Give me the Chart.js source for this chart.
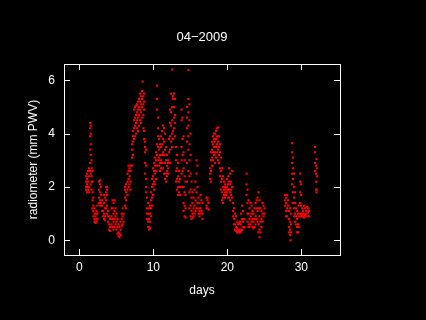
<!DOCTYPE html>
<html>
<head>
<meta charset="utf-8">
<script src="https://cdn.jsdelivr.net/npm/chart.js@4/dist/chart.umd.min.js"></script>
<style>
  html, body { margin: 0; padding: 0; background: #000; }
  #wrap { width: 426px; height: 320px; }
</style>
</head>
<body>
<div id="wrap"><canvas id="c" width="426" height="320"></canvas></div>
<script>
// ---- data ----
const chartTitle = "04\u22122009";
const xTitle = "days";
const yTitle = "radiometer (mm PWV)";
const xTicks = [0, 10, 20, 30];
const yTicks = [0, 2, 4, 6];

// day of each column of samples
const dayColumns = [
  0.91, 1.04, 1.18, 1.31, 1.45, 1.54, 1.65, 1.78, 1.89, 2.05, 2.19, 2.32, 2.43,
  2.66, 2.80, 2.93, 3.07, 3.20, 3.34, 3.47, 3.61, 3.74, 3.88, 4.01, 4.15, 4.35,
  4.49, 4.62, 4.76, 4.89, 5.03, 5.16, 5.30, 5.43, 5.57, 5.73, 5.84, 5.97,
  6.18, 6.31, 6.51, 6.65, 6.78, 6.92, 7.12, 7.26, 7.39, 7.53, 7.66, 7.80, 7.93,
  8.07, 8.20, 8.34, 8.47, 8.54, 8.65, 8.74, 8.88, 9.01, 9.15, 9.28, 9.42, 9.55,
  9.69, 9.82, 9.96, 10.10, 10.23, 10.36, 10.50, 10.64, 10.77, 10.90, 11.04,
  11.18, 11.31, 11.45, 11.58, 11.72, 11.85, 11.99, 12.12, 12.26, 12.39, 12.53,
  12.66, 12.80, 12.93, 13.07, 13.20, 13.34, 13.47, 13.61, 13.81, 13.95, 14.08,
  14.22, 14.35, 14.55, 14.73, 14.89, 15.03, 15.16, 15.30, 15.43, 15.57, 15.70,
  15.84, 15.97, 16.11, 16.24, 16.38, 16.51, 16.65,
  17.19, 17.32, 17.46, 17.66, 17.80, 17.93, 18.07, 18.20, 18.34, 18.47, 18.61,
  18.74, 18.88, 19.01, 19.15, 19.28, 19.42, 19.55, 19.69, 19.82, 19.96, 20.09,
  20.23, 20.36, 20.50, 20.64, 20.77, 20.90, 21.04, 21.18, 21.31, 21.45, 21.58,
  21.72, 21.85, 21.99, 22.12, 22.26, 22.60, 22.73, 22.87, 23.00, 23.14, 23.27,
  23.41, 23.54, 23.68, 23.81, 23.95, 24.08, 24.22, 24.35, 24.49, 24.62, 24.76,
  24.89, 25.03,
  27.80, 27.93, 28.07, 28.20, 28.34, 28.47, 28.55, 28.61, 28.74, 28.88, 29.01,
  29.15, 29.28, 29.42, 29.55, 29.69, 29.82, 29.96, 30.09, 30.23, 30.36, 30.50,
  30.64, 30.77, 30.91, 31.04,
  31.85, 31.99, 32.05, 32.12
];

// PWV samples (mm) in each column
const pwvColumns = [
  [2.0, 2.2, 2.4, 1.9], [1.8, 2.1, 2.5, 2.3], [1.9, 2.2, 2.6, 2.0], [2.4, 2.0, 1.8, 2.7],
  [4.4, 4.2, 3.9, 3.4, 2.9, 2.6], [4.3, 4.0, 3.6, 3.2, 2.5, 2.1], [3.0, 2.7, 2.4, 2.2, 1.9],
  [2.6, 2.2, 1.8, 1.5, 1.2], [1.6, 1.3, 1.1, 0.9], [1.2, 1.0, 0.8, 0.7], [0.9, 0.7, 0.65, 1.0],
  [0.8, 0.7, 1.1], [1.0, 1.3, 0.8],
  [1.6, 1.9, 2.2, 1.4], [1.5, 1.8, 2.1, 1.3, 2.25], [1.4, 1.7, 2.0], [1.1, 1.3, 1.5], [0.9, 1.1],
  [1.7, 1.4, 1.0, 0.8], [1.6, 1.2, 0.9, 0.75], [2.0, 1.8, 1.5, 1.2], [1.9, 1.7, 1.3, 1.0, 2.0],
  [1.1, 0.9, 0.7], [0.9, 0.6, 0.4], [0.8, 0.5, 0.35], [1.2, 0.9, 0.6],
  [1.5, 1.2, 0.8, 0.5], [1.4, 1.0, 0.7, 0.4], [1.5, 1.1, 0.8, 0.5], [1.2, 0.9, 0.6],
  [1.0, 0.7, 0.4], [0.8, 0.5, 0.25], [0.6, 0.3, 0.15], [0.5, 0.25, 0.12], [0.7, 0.4, 0.2],
  [1.0, 0.8, 0.55], [1.2, 0.9, 0.6], [1.0, 0.7],
  [1.3, 1.6, 1.9, 2.0], [1.2, 1.5, 1.8, 2.1], [1.9, 2.2, 2.5, 1.7], [2.0, 2.3, 2.6, 2.8],
  [2.1, 2.4, 2.7], [2.2, 2.6, 2.8, 1.9], [2.8, 3.1, 3.4, 3.6], [3.2, 3.7, 3.9, 4.1],
  [3.8, 4.2, 4.5, 4.9], [3.9, 4.3, 4.6, 5.0], [4.0, 4.4, 4.7, 5.05], [4.2, 4.5, 4.8, 5.1],
  [4.1, 4.6, 4.9, 5.2],
  [4.3, 4.7, 5.0, 5.3], [4.5, 4.9, 5.2, 5.5], [4.4, 4.8, 5.1, 5.4], [4.6, 5.0, 5.3, 5.6],
  [5.95], [5.4, 5.1, 4.7, 4.2], [5.5, 5.2, 4.9, 4.1, 3.8], [3.7, 3.5, 3.3, 2.9, 2.5],
  [3.4, 2.8, 2.3, 2.0, 1.8], [1.6, 1.2, 1.0, 0.8], [1.4, 1.0, 0.7, 0.5], [1.2, 0.8, 0.5, 0.4],
  [1.0, 0.7, 0.45, 1.3],
  [1.5, 1.2, 0.9, 1.8], [2.0, 1.6, 1.3, 2.3], [2.4, 2.1, 1.7, 2.7], [2.6, 2.2, 1.9, 2.9],
  [2.8, 2.5, 2.1, 3.1], [3.0, 2.6, 2.3, 3.3], [5.8, 5.3, 4.9, 3.6, 3.2, 2.8],
  [4.6, 4.2, 3.9, 3.5, 3.0], [3.8, 3.4, 3.1, 2.8], [3.6, 3.2, 2.9, 2.6], [3.9, 3.5, 3.0, 2.7],
  [4.1, 3.6, 3.2, 2.9], [4.3, 3.8, 3.3, 2.7], [4.2, 3.7, 3.2, 2.5], [4.0, 3.4, 2.9, 2.3],
  [3.5, 3.0, 2.5, 2.2], [3.2, 2.8, 2.4, 2.6], [3.0, 2.7, 2.5, 2.9], [3.8, 3.3, 2.9],
  [4.9, 4.4, 3.9, 3.4, 2.9], [5.5, 4.8, 4.3, 3.7], [6.4, 5.0, 4.5, 4.0, 3.5],
  [5.4, 5.3, 4.1, 3.8], [5.5, 5.0, 4.6, 4.2], [5.3, 4.7, 4.4, 3.9], [3.5, 3.0, 2.6, 2.2],
  [3.2, 2.7, 2.3, 1.9], [2.9, 2.4, 2.0, 1.7], [2.6, 2.2, 1.8], [2.3, 2.0, 1.7],
  [4.9, 4.5, 3.5, 3.0, 2.5], [4.6, 3.8, 3.2, 2.6, 2.0], [3.9, 3.3, 2.7, 2.0, 1.4, 1.1],
  [3.0, 2.4, 1.8, 1.3, 0.9], [2.2, 1.7, 1.2, 0.85], [5.0, 4.6, 4.2, 3.7, 2.9, 2.2],
  [6.38, 5.3, 4.8, 4.3, 3.9, 3.4, 2.6], [5.1, 4.5, 3.6, 3.0, 2.4, 1.8, 1.2],
  [4.0, 3.2, 2.5, 1.9, 1.3, 0.9], [2.2, 1.6, 1.1, 0.8], [1.8, 1.4, 1.0, 0.85], [1.6, 1.2, 0.9],
  [1.9, 1.3, 1.0], [2.2, 1.5, 1.1], [3.0, 2.5, 1.8, 1.2], [2.8, 2.0, 1.4], [1.6, 1.2, 1.0],
  [1.4, 1.1, 0.9], [1.7, 1.2, 1.0], [1.5, 1.1], [1.4, 1.0, 0.8],
  [1.6, 1.3, 1.2], [1.5, 1.2, 1.6], [1.4, 1.15], [2.3, 2.5, 2.7], [2.2, 2.6, 3.0, 3.3],
  [2.8, 3.1, 3.4, 3.7], [3.0, 3.3, 3.6, 3.9], [3.2, 3.5, 3.8, 4.0], [2.9, 3.3, 3.7, 4.0],
  [3.1, 3.5, 3.8, 4.1], [3.3, 3.6, 3.9, 4.2],
  [4.23, 3.7, 3.4, 3.0], [3.9, 3.5, 3.2, 2.9], [3.6, 3.3, 2.7, 2.4], [3.1, 2.6, 2.2, 1.9],
  [2.7, 2.3, 1.8, 1.5], [2.4, 2.0, 1.6, 1.4], [2.2, 1.9, 1.7, 2.0], [2.1, 1.8, 1.6],
  [2.0, 1.7, 1.9], [2.3, 2.0, 1.8], [2.4, 2.1, 1.9, 1.6],
  [2.7, 2.2, 1.9, 1.6], [2.5, 2.1, 1.8, 1.5], [2.2, 1.9, 1.7], [2.6, 2.0, 1.6],
  [1.4, 1.1, 0.9], [1.2, 0.8, 0.6], [1.0, 0.6, 0.4], [0.9, 0.5, 0.35], [0.7, 0.45, 0.3],
  [0.6, 0.4, 0.3], [0.65, 0.35, 0.3],
  [0.7, 0.4, 0.3], [1.0, 0.6, 0.35], [1.3, 0.8, 0.4], [1.1, 0.7, 0.5], [0.8, 0.5],
  [2.5, 2.1, 1.7], [1.9, 1.4, 1.0, 0.7], [1.5, 1.0, 0.6, 0.5], [1.2, 0.8, 0.5],
  [1.4, 0.9, 0.6], [1.3, 1.0, 0.7],
  [1.1, 0.8, 0.5], [1.0, 0.7, 0.45], [1.2, 0.8, 0.5], [1.4, 0.9, 0.6], [1.5, 1.2, 0.8],
  [1.6, 1.1, 0.7], [1.8, 1.2, 0.6, 0.3], [1.5, 0.9, 0.4, 0.12], [1.2, 0.7, 0.3],
  [1.1, 0.8, 0.5], [1.4, 1.0, 0.7],
  [1.3, 0.9], [1.2, 1.0],
  [1.7, 1.5, 1.3], [1.6, 1.4, 1.1, 0.9], [1.7, 1.2, 0.9], [1.5, 1.3], [1.1, 0.8, 0.5, 0.3],
  [1.2, 0.7, 0.4, 0.2], [0.0], [1.0, 0.6, 0.3], [3.64, 3.3, 2.9, 2.5, 2.1],
  [3.1, 2.7, 2.3, 1.8, 1.4], [2.5, 2.0, 1.6, 1.2, 0.9],
  [1.8, 1.4, 1.0, 0.7], [1.2, 0.9, 0.6], [1.1, 0.8, 0.5, 0.3], [1.0, 0.6, 0.3],
  [1.3, 0.9, 0.5], [2.5, 2.2, 1.8, 1.4, 1.0], [2.1, 1.7, 1.3, 0.9], [1.2, 1.0, 0.9],
  [1.1, 0.9], [1.3, 1.0, 0.85], [1.2, 0.95],
  [1.1, 0.9], [1.25, 1.0], [1.2, 1.05], [1.1, 0.9],
  [3.5, 3.3, 2.9, 2.6], [2.8, 2.5, 2.2, 1.9], [1.8, 1.9, 3.05], [2.7, 2.4]
];

// table of (day, pwv) points built from the columns above
const points = [];
dayColumns.forEach((d, i) => {
  (pwvColumns[i] || []).forEach(v => points.push({ x: d, y: v }));
});

const FONT = '"Liberation Sans", Arial, sans-serif';

const framePlugin = {
  id: 'frame',
  afterDraw(chart) {
    const { ctx, chartArea: a, scales } = chart;
    ctx.save();
    ctx.strokeStyle = '#ffffff';
    ctx.lineWidth = 1;
    ctx.strokeRect(a.left + 0.5, a.top + 0.5, a.right - a.left, a.bottom - a.top);
    const tl = 6;
    ctx.beginPath();
    xTicks.forEach(v => {
      const x = Math.round(scales.x.getPixelForValue(v)) + 0.5;
      ctx.moveTo(x, a.bottom); ctx.lineTo(x, a.bottom - tl);
      ctx.moveTo(x, a.top); ctx.lineTo(x, a.top + tl);
    });
    yTicks.forEach(v => {
      const y = Math.round(scales.y.getPixelForValue(v)) + 0.5;
      ctx.moveTo(a.left, y); ctx.lineTo(a.left + tl, y);
      ctx.moveTo(a.right, y); ctx.lineTo(a.right - tl, y);
    });
    ctx.stroke();

    ctx.fillStyle = '#ffffff';
    ctx.textAlign = 'center';
    ctx.textBaseline = 'middle';
    const cx = (a.left + a.right) / 2;
    const cy = (a.top + a.bottom) / 2;
    ctx.font = '13px ' + FONT;
    ctx.fillText(chartTitle, cx, 37);
    ctx.font = '12px ' + FONT;
    ctx.fillText(xTitle, cx, 291);
    ctx.translate(34, cy);
    ctx.rotate(-Math.PI / 2);
    ctx.fillText(yTitle, 0, 0);
    ctx.restore();
  }
};

new Chart(document.getElementById('c'), {
  type: 'scatter',
  data: {
    datasets: [{
      data: points,
      backgroundColor: '#ff0000',
      borderWidth: 0,
      pointStyle: 'rect',
      pointRadius: 1.5,
      pointHoverRadius: 1.5
    }]
  },
  options: {
    responsive: false,
    animation: false,
    events: [],
    layout: { padding: { left: 0, right: 86, top: 64, bottom: 0 } },
    plugins: { legend: { display: false }, tooltip: { enabled: false }, title: { display: false } },
    scales: {
      x: {
        type: 'linear',
        min: -2.07,
        max: 35.23,
        afterBuildTicks: s => { s.ticks = xTicks.map(v => ({ value: v })); },
        afterFit: s => { s.height = 65; },
        grid: { display: false, drawTicks: false, tickLength: 0 },
        border: { display: false },
        ticks: { color: '#ffffff', font: { family: FONT, size: 12 }, padding: 5, maxRotation: 0 }
      },
      y: {
        type: 'linear',
        min: -0.55,
        max: 6.61,
        afterBuildTicks: s => { s.ticks = yTicks.map(v => ({ value: v })); },
        afterFit: s => { s.width = 64; },
        grid: { display: false, drawTicks: false, tickLength: 0 },
        border: { display: false },
        ticks: { color: '#ffffff', font: { family: FONT, size: 12 }, padding: 9 }
      }
    }
  },
  plugins: [framePlugin]
});
</script>
</body>
</html>
